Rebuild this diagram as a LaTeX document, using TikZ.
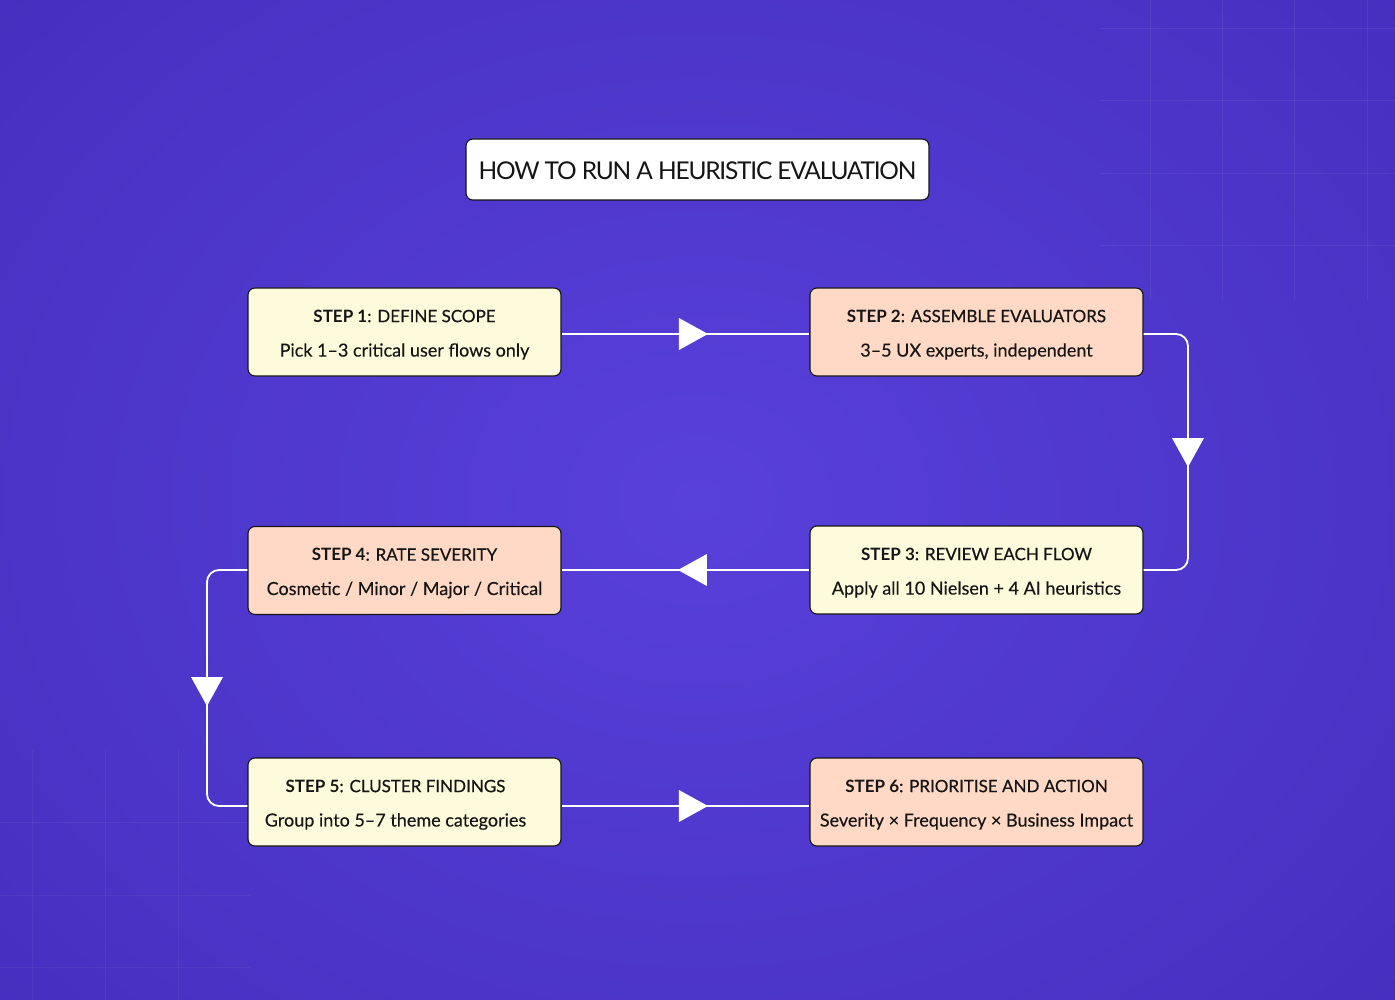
\documentclass[tikz,border=0pt]{standalone}
\usepackage{fontspec}
\setmainfont{Lato}
\usetikzlibrary{decorations.markings,calc}
\definecolor{bgin}{HTML}{5840DA}
\definecolor{bgout}{HTML}{452EBE}
\definecolor{yel}{HTML}{FEFBDD}
\definecolor{pch}{HTML}{FFD9C5}
\definecolor{ink}{HTML}{151515}
\tikzset{
  box/.style={draw=ink, line width=1.1pt, rounded corners=7pt, minimum height=88pt, inner sep=0pt, text=ink, align=center},
  lbox/.style={box, minimum width=313pt},
  rbox/.style={box, minimum width=333pt},
  conn/.style={draw=white, line width=1.8pt, rounded corners=12pt,
    postaction={decorate, decoration={markings, mark=at position #1 with {\fill[white, sharp corners] (-14,-16) -- (15,0) -- (-14,16) -- cycle;}}}},
  conn/.default=0.5,
  hd/.style={font=\fontsize{17}{20}\selectfont, text=ink},
  bd/.style={font=\fontsize{18}{20}\selectfont\addfontfeatures{FakeBold=0.25}, text=ink},
}
\newcommand{\hdtext}[2]{\textbf{#1}{\addfontfeatures{FakeBold=0.5}: #2}}
\begin{document}
\begin{tikzpicture}[x=1pt,y=-1pt]
\useasboundingbox (0,0) rectangle (1395,1000);
\shade[inner color=bgin, outer color=bgout] (-300,-300) rectangle (1695,1300);
% faint grid
\begin{scope}[draw=white, line width=0.8pt]
  \foreach \x in {1150,1222,1294,1367} \draw[opacity=0.06] (\x,0) -- (\x,300);
  \foreach \y in {28,100,173,245} \draw[opacity=0.06] (1100,\y) -- (1395,\y);
  \foreach \x in {32,105,178} \draw[opacity=0.05] (\x,750) -- (\x,1000);
  \foreach \y in {822,895,967} \draw[opacity=0.05] (0,\y) -- (250,\y);
\end{scope}
% title
\node[draw=ink, fill=white, line width=1.1pt, rounded corners=7pt, minimum width=463pt, minimum height=61pt, inner sep=0pt] (title) at (697.5,169.5) {};
\node[font=\fontsize{24.5}{28}\selectfont\addfontfeatures{LetterSpace=-5}, text=ink] (tt) at ($(title.center)+(0,1.5)$) {HOW TO RUN A HEURISTIC EVALUATION};
% steps
\node[lbox, fill=yel] (s1) at (404.5,332) {};
\node[rbox, fill=pch] (s2) at (976.5,332) {};
\node[rbox, fill=yel] (s3) at (976.5,570) {};
\node[lbox, fill=pch] (s4) at (404.5,570.5) {};
\node[lbox, fill=yel] (s5) at (404.5,802) {};
\node[rbox, fill=pch] (s6) at (976.5,802) {};
\node[hd] (h1) at ($(s1.center)+(0,-16)$) {\hdtext{STEP 1}{DEFINE SCOPE}};
\node[bd] (b1) at ($(s1.center)+(0,19.5)$) {Pick 1–3 critical user flows only};
\node[hd] (h2) at ($(s2.center)+(0,-16)$) {\hdtext{STEP 2}{ASSEMBLE EVALUATORS}};
\node[bd] (b2) at ($(s2.center)+(0,19.5)$) {3–5 UX experts, independent};
\node[hd] (h3) at ($(s3.center)+(0,-16)$) {\hdtext{STEP 3}{REVIEW EACH FLOW}};
\node[bd] (b3) at ($(s3.center)+(0,19.5)$) {Apply all 10 Nielsen + 4 AI heuristics};
\node[hd] (h4) at ($(s4.center)+(0,-16)$) {\hdtext{STEP 4}{RATE SEVERITY}};
\node[bd] (b4) at ($(s4.center)+(0,19.5)$) {Cosmetic / Minor / Major / Critical};
\node[hd] (h5) at ($(s5.center)+(-9,-16)$) {\hdtext{STEP 5}{CLUSTER FINDINGS}};
\node[bd] (b5) at ($(s5.center)+(-9,19.5)$) {Group into 5–7 theme categories};
\node[hd] (h6) at ($(s6.center)+(0,-16)$) {\hdtext{STEP 6}{PRIORITISE AND ACTION}};
\node[bd] (b6) at ($(s6.center)+(0,19.5)$) {Severity × Frequency × Business Impact};
% connectors
\path[conn=0.53] (s1.east |- 0,334) -- (s2.west |- 0,334);
\path[conn=0.5] (s2.east |- 0,334) -- (1188,334) -- (1188,570) -- (s3.east |- 0,570);
\path[conn=0.47] (s3.west |- 0,570) -- (s4.east |- 0,570);
\path[conn=0.51] (s4.west |- 0,570) -- (207,570) -- (207,806) -- (s5.west |- 0,806);
\path[conn=0.53] (s5.east |- 0,806) -- (s6.west |- 0,806);
\end{tikzpicture}
\end{document}
